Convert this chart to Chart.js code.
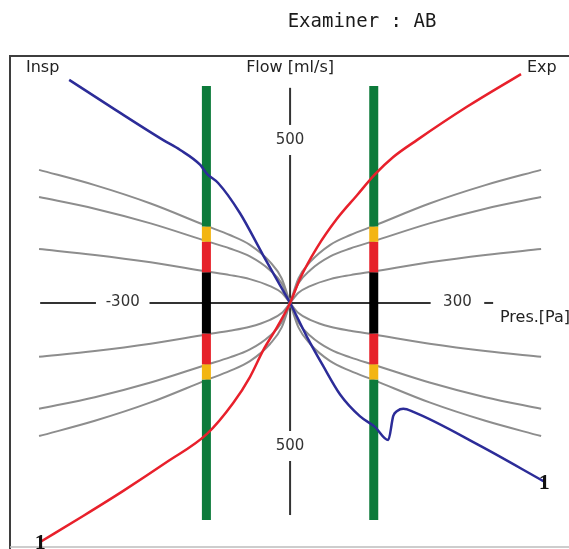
<!DOCTYPE html>
<html>
<head>
<meta charset="utf-8">
<script src="https://cdn.jsdelivr.net/npm/chart.js@4.4.1/dist/chart.umd.min.js"></script>
<style>
  html, body { margin: 0; padding: 0; background: #fff; }
  canvas { display: block; }
</style>
</head>
<body>
<canvas id="myChart" width="569" height="549"></canvas>
<script>
// pressure (Pa) at which the grey resistance curves were read
const curvePres = [0, 15, 36, 72, 108, 150, 250, 350, 450];
// flow (ml/s) of the three grey curves, mirrored on both sides
const curveHigh = [0, 80, 134, 190, 222, 252, 325, 385, 435];
const curveMid = [0, 64, 107, 152, 178, 202, 260, 308, 346];
const curveLow = [0, 33, 55, 78, 91, 103, 133, 157, 176];

// inspiration (blue)
const inspPres = [-396, -313, -228, -197, -161, -149, -129, -90, -48, -13, 0, 30, 59, 90, 125, 152, 176, 185, 192, 203, 221, 341, 454];
const inspFlow = [729, 631, 533, 500, 451, 422, 392, 294, 155, 42, 0, -110, -205, -300, -370, -405, -448, -369, -353, -346, -356, -467, -582];

// expiration (red)
const expPres = [-448, -371, -299, -221, -149, -102, -72, -48, -23, 0, 18, 48, 84, 120, 152, 185, 228, 317, 414];
const expFlow = [-781, -696, -614, -520, -428, -327, -242, -154, -78, 0, 80, 180, 275, 352, 420, 477, 533, 641, 748];

// classification bars
const barPres = [-150, 150];
const barLimits = [709, 250, 200, 100, -100, -200, -250, -709];
const barColors = ['#0c7a3a', '#f3b512', '#e62129', '#000000', '#e62129', '#f3b512', '#0c7a3a'];

// axis ticks and limits
const xTicks = [-300, 300];
const yTicks = [500, -500];
const xAxisLimits = [-448, 364];
const yAxisLimits = [-693, 703];

let datasets = [];

function pts(xsArr, ysArr) {
    return xsArr.map((v, i) => ({ x: v, y: ysArr[i] }));
}

// grey curves: each one split in a left and a right branch
[curveHigh, curveMid, curveLow].forEach(c => {
    [1, -1].forEach(sign => {
        let right = curvePres.map((p, i) => ({ x: p, y: sign * c[i] }));
        let left = curvePres.map((p, i) => ({ x: -p, y: sign * c[i] })).reverse();
        [left, right].forEach(d => {
            datasets.push({
                data: d,
                showLine: true,
                borderColor: '#8d8d8d',
                borderWidth: 2,
                pointRadius: 0,
                cubicInterpolationMode: 'monotone',
                order: 3
            });
        });
    });
});

// coloured bars
barPres.forEach(p => {
    for (let i = 0; i < barColors.length; i++) {
        datasets.push({
            data: [{ x: p, y: barLimits[i] }, { x: p, y: barLimits[i + 1] }],
            showLine: true,
            borderColor: barColors[i],
            borderWidth: 9,
            borderCapStyle: 'butt',
            pointRadius: 0,
            order: 2
        });
    }
});

datasets.push({
    label: 'Exp',
    data: pts(expPres, expFlow),
    showLine: true,
    borderColor: '#e8202b',
    borderWidth: 2.5,
    pointRadius: 0,
    cubicInterpolationMode: 'monotone',
    order: 0
});
datasets.push({
    label: 'Insp',
    data: pts(inspPres, inspFlow),
    showLine: true,
    borderColor: '#2c2c98',
    borderWidth: 2.5,
    pointRadius: 0,
    cubicInterpolationMode: 'monotone',
    order: 0
});

const extras = {
    id: 'extras',
    beforeDatasetsDraw(chart) {
        const ctx = chart.ctx;
        const xs = chart.scales.x, ys = chart.scales.y;
        const x0 = xs.getPixelForValue(0), y0 = ys.getPixelForValue(0);
        ctx.save();
        // frame
        ctx.strokeStyle = '#3e3e3e';
        ctx.lineWidth = 2;
        ctx.beginPath();
        ctx.moveTo(569, 56);
        ctx.lineTo(10, 56);
        ctx.lineTo(10, 549);
        ctx.stroke();
        ctx.strokeStyle = '#bdbdbd';
        ctx.lineWidth = 1.5;
        ctx.beginPath();
        ctx.moveTo(10, 547);
        ctx.lineTo(569, 547);
        ctx.stroke();

        // pressure axis, broken around the labels
        ctx.strokeStyle = '#333';
        ctx.lineWidth = 2;
        let xs2 = [xAxisLimits[0]];
        xTicks.forEach(t => xs2.push(t - 48, t + 48));
        xs2.push(xAxisLimits[1]);
        for (let i = 0; i < xs2.length; i += 2) {
            ctx.beginPath();
            ctx.moveTo(xs.getPixelForValue(xs2[i]), y0);
            ctx.lineTo(xs.getPixelForValue(xs2[i + 1]), y0);
            ctx.stroke();
        }
        // flow axis
        let ys2 = [ys.getPixelForValue(yAxisLimits[1])];
        yTicks.forEach(t => {
            let ly = ys.getPixelForValue(t) - 10;
            ys2.push(ly - 15, ly + 15);
        });
        ys2.push(ys.getPixelForValue(yAxisLimits[0]));
        for (let i = 0; i < ys2.length; i += 2) {
            ctx.beginPath();
            ctx.moveTo(x0, ys2[i]);
            ctx.lineTo(x0, ys2[i + 1]);
            ctx.stroke();
        }

        // tick labels
        ctx.fillStyle = '#333';
        ctx.font = '15px "DejaVu Sans"';
        ctx.textAlign = 'center';
        ctx.textBaseline = 'middle';
        xTicks.forEach(t => ctx.fillText(String(t), xs.getPixelForValue(t), y0 - 1));
        yTicks.forEach(t => ctx.fillText(String(Math.abs(t)), x0, ys.getPixelForValue(t) - 10));

        // axis names
        ctx.font = '16px "DejaVu Sans"';
        ctx.fillStyle = '#222';
        ctx.textAlign = 'left';
        ctx.fillText('Insp', 26, 68);
        ctx.fillText('Exp', 527, 68);
        ctx.fillText('Pres.[Pa]', 500, y0 + 15);
        ctx.textAlign = 'center';
        ctx.fillText('Flow [ml/s]', x0, 68);

        // title
        ctx.font = '19px "DejaVu Sans Mono"';
        ctx.fillStyle = '#1a1a1a';
        ctx.fillText('Examiner : AB', 362, 22);
        ctx.restore();
    },
    afterDatasetsDraw(chart) {
        const ctx = chart.ctx;
        const n = chart.data.datasets.length;
        const expStart = chart.getDatasetMeta(n - 2).data[0];
        const inspMeta = chart.getDatasetMeta(n - 1).data;
        const inspEnd = inspMeta[inspMeta.length - 1];
        ctx.save();
        ctx.font = 'bold 22px "Liberation Serif"';
        ctx.fillStyle = '#111';
        ctx.textAlign = 'center';
        ctx.textBaseline = 'middle';
        ctx.fillText('1', expStart.x, expStart.y + 1);
        ctx.fillText('1', inspEnd.x + 1, inspEnd.y + 2);
        ctx.restore();
    }
};

const myChart = new Chart(document.getElementById('myChart').getContext('2d'), {
    type: 'scatter',
    data: { datasets: datasets },
    options: {
        responsive: false,
        animation: false,
        layout: { padding: 0 },
        scales: {
            x: { type: 'linear', min: -520, max: 500, display: false },
            y: { type: 'linear', min: -804, max: 990, display: false }
        },
        plugins: {
            legend: { display: false },
            tooltip: { enabled: false }
        }
    },
    plugins: [extras]
});
</script>
</body>
</html>
